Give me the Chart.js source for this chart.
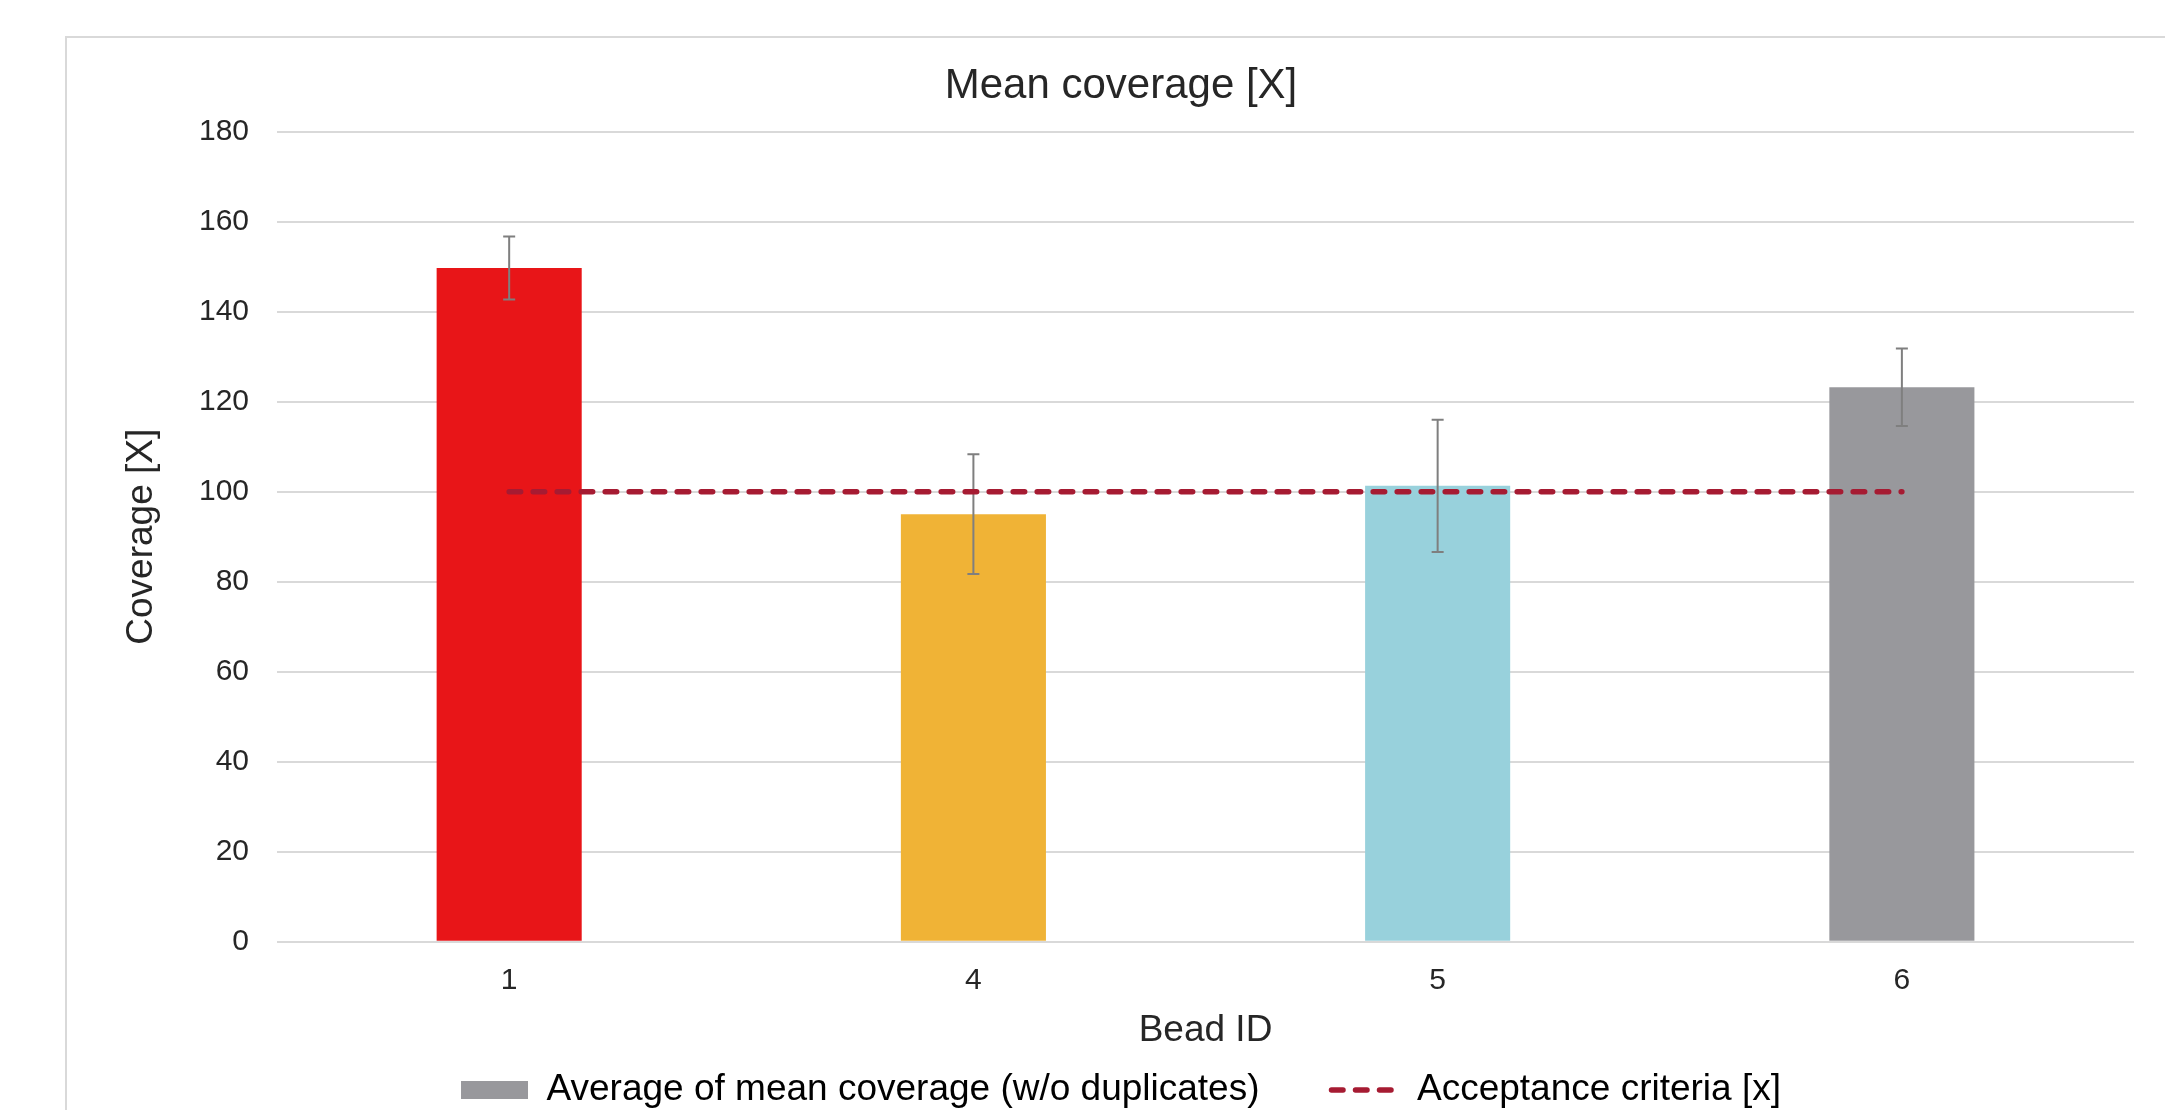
<!DOCTYPE html>
<html>
<head>
<meta charset="utf-8">
<script src="https://cdn.jsdelivr.net/npm/chart.js@4.4.1/dist/chart.umd.min.js"></script>
<style>
  html, body { margin: 0; padding: 0; background: #ffffff; }
  body { width: 2165px; height: 1110px; overflow: hidden; position: relative; }
  #frame { position: absolute; left: 65px; top: 36px; width: 2140px; height: 1200px; border: 2px solid #d9d9d9; box-sizing: border-box; }
  #wrap { position: absolute; left: 67px; top: 38px; width: 2108px; height: 1096px; }
</style>
</head>
<body>
<div id="frame"></div>
<div id="wrap"><canvas id="chart"></canvas></div>
<script>
// ---- data ----
const chartTitle = 'Mean coverage [X]';
const xAxisTitle = 'Bead ID';
const yAxisTitle = 'Coverage [X]';
const categories = ['1', '4', '5', '6'];
const meanCoverage = [149.7, 95.0, 101.3, 123.2];
const coverageError = [7.0, 13.3, 14.7, 8.6];
const acceptanceCriteria = [100, 100, 100, 100];
const seriesNames = ['Average of mean coverage (w/o duplicates)', 'Acceptance criteria [x]'];
const yMin = 0, yMax = 180, yStep = 20;

// ---- styles ----
const barColors = ['#E81518', '#F0B336', '#98D1DC', '#98989C'];
const seriesColor = '#98989C';
const lineColor = '#A61B32';
const errColor = '#7F7F7F';
const textColor = '#262626';
const FONT = "'Liberation Sans', Arial, Helvetica, sans-serif";

Chart.defaults.font.family = FONT;
Chart.defaults.color = textColor;

const errorBarPlugin = {
  id: 'errorBars',
  afterDatasetDraw(chart, args) {
    if (args.index !== 0) return;
    const ctx = chart.ctx;
    const yScale = chart.scales.y;
    const cap = 6;
    ctx.save();
    ctx.strokeStyle = errColor;
    ctx.lineWidth = 2;
    args.meta.data.forEach((bar, i) => {
      const x = bar.x;
      const yt = yScale.getPixelForValue(meanCoverage[i] + coverageError[i]);
      const yb = yScale.getPixelForValue(meanCoverage[i] - coverageError[i]);
      ctx.beginPath();
      ctx.moveTo(x, yt); ctx.lineTo(x, yb);
      ctx.moveTo(x - cap, yt); ctx.lineTo(x + cap, yt);
      ctx.moveTo(x - cap, yb); ctx.lineTo(x + cap, yb);
      ctx.stroke();
    });
    ctx.restore();
  }
};

new Chart(document.getElementById('chart'), {
  data: {
    labels: categories,
    datasets: [
      {
        type: 'bar',
        label: seriesNames[0],
        data: meanCoverage,
        backgroundColor: barColors,
        borderWidth: 0,
        barPercentage: 0.3125,
        categoryPercentage: 1.0,
        order: 1
      },
      {
        type: 'line',
        label: seriesNames[1],
        data: acceptanceCriteria,
        borderColor: lineColor,
        borderWidth: 5.5,
        borderDash: [11.5, 12.5],
        borderCapStyle: 'round',
        pointRadius: 0,
        fill: false,
        tension: 0,
        order: 0
      }
    ]
  },
  options: {
    responsive: true,
    maintainAspectRatio: false,
    animation: false,
    events: [],
    layout: { padding: { left: 41, right: 41, top: 0, bottom: 15.5 } },
    plugins: {
      tooltip: { enabled: false },
      title: {
        display: true,
        text: chartTitle,
        font: { size: 42, weight: 'normal' },
        color: textColor,
        padding: { top: 22.8, bottom: 20.5 }
      },
      legend: {
        display: true,
        position: 'bottom',
        labels: {
          usePointStyle: true,
          pointStyleWidth: 67,
          boxHeight: 18,
          padding: 72,
          font: { size: 37 },
          color: textColor,
          generateLabels: () => [
            { text: seriesNames[0], fillStyle: seriesColor, strokeStyle: seriesColor, lineWidth: 0, pointStyle: 'rect', datasetIndex: 0, hidden: false },
            { text: seriesNames[1], fillStyle: 'rgba(0,0,0,0)', strokeStyle: lineColor, lineWidth: 5.5, lineDash: [11.5, 12.5], lineCap: 'round', pointStyle: 'line', datasetIndex: 1, hidden: false }
          ]
        }
      }
    },
    scales: {
      x: {
        type: 'category',
        grid: { display: false, drawTicks: false },
        border: { display: false },
        ticks: { padding: 21, font: { size: 30 }, color: textColor },
        title: { display: true, text: xAxisTitle, font: { size: 37 }, color: textColor, padding: { top: -11.4, bottom: -53.2 } }
      },
      y: {
        type: 'linear',
        min: yMin,
        max: yMax,
        ticks: { stepSize: yStep, padding: 28, font: { size: 30 }, color: textColor },
        grid: { color: '#d9d9d9', lineWidth: 2, drawTicks: false },
        border: { display: false },
        title: { display: true, text: yAxisTitle, font: { size: 37 }, color: textColor, padding: { top: 11.8, bottom: 6.8 } }
      }
    }
  },
  plugins: [errorBarPlugin]
});
</script>
</body>
</html>
